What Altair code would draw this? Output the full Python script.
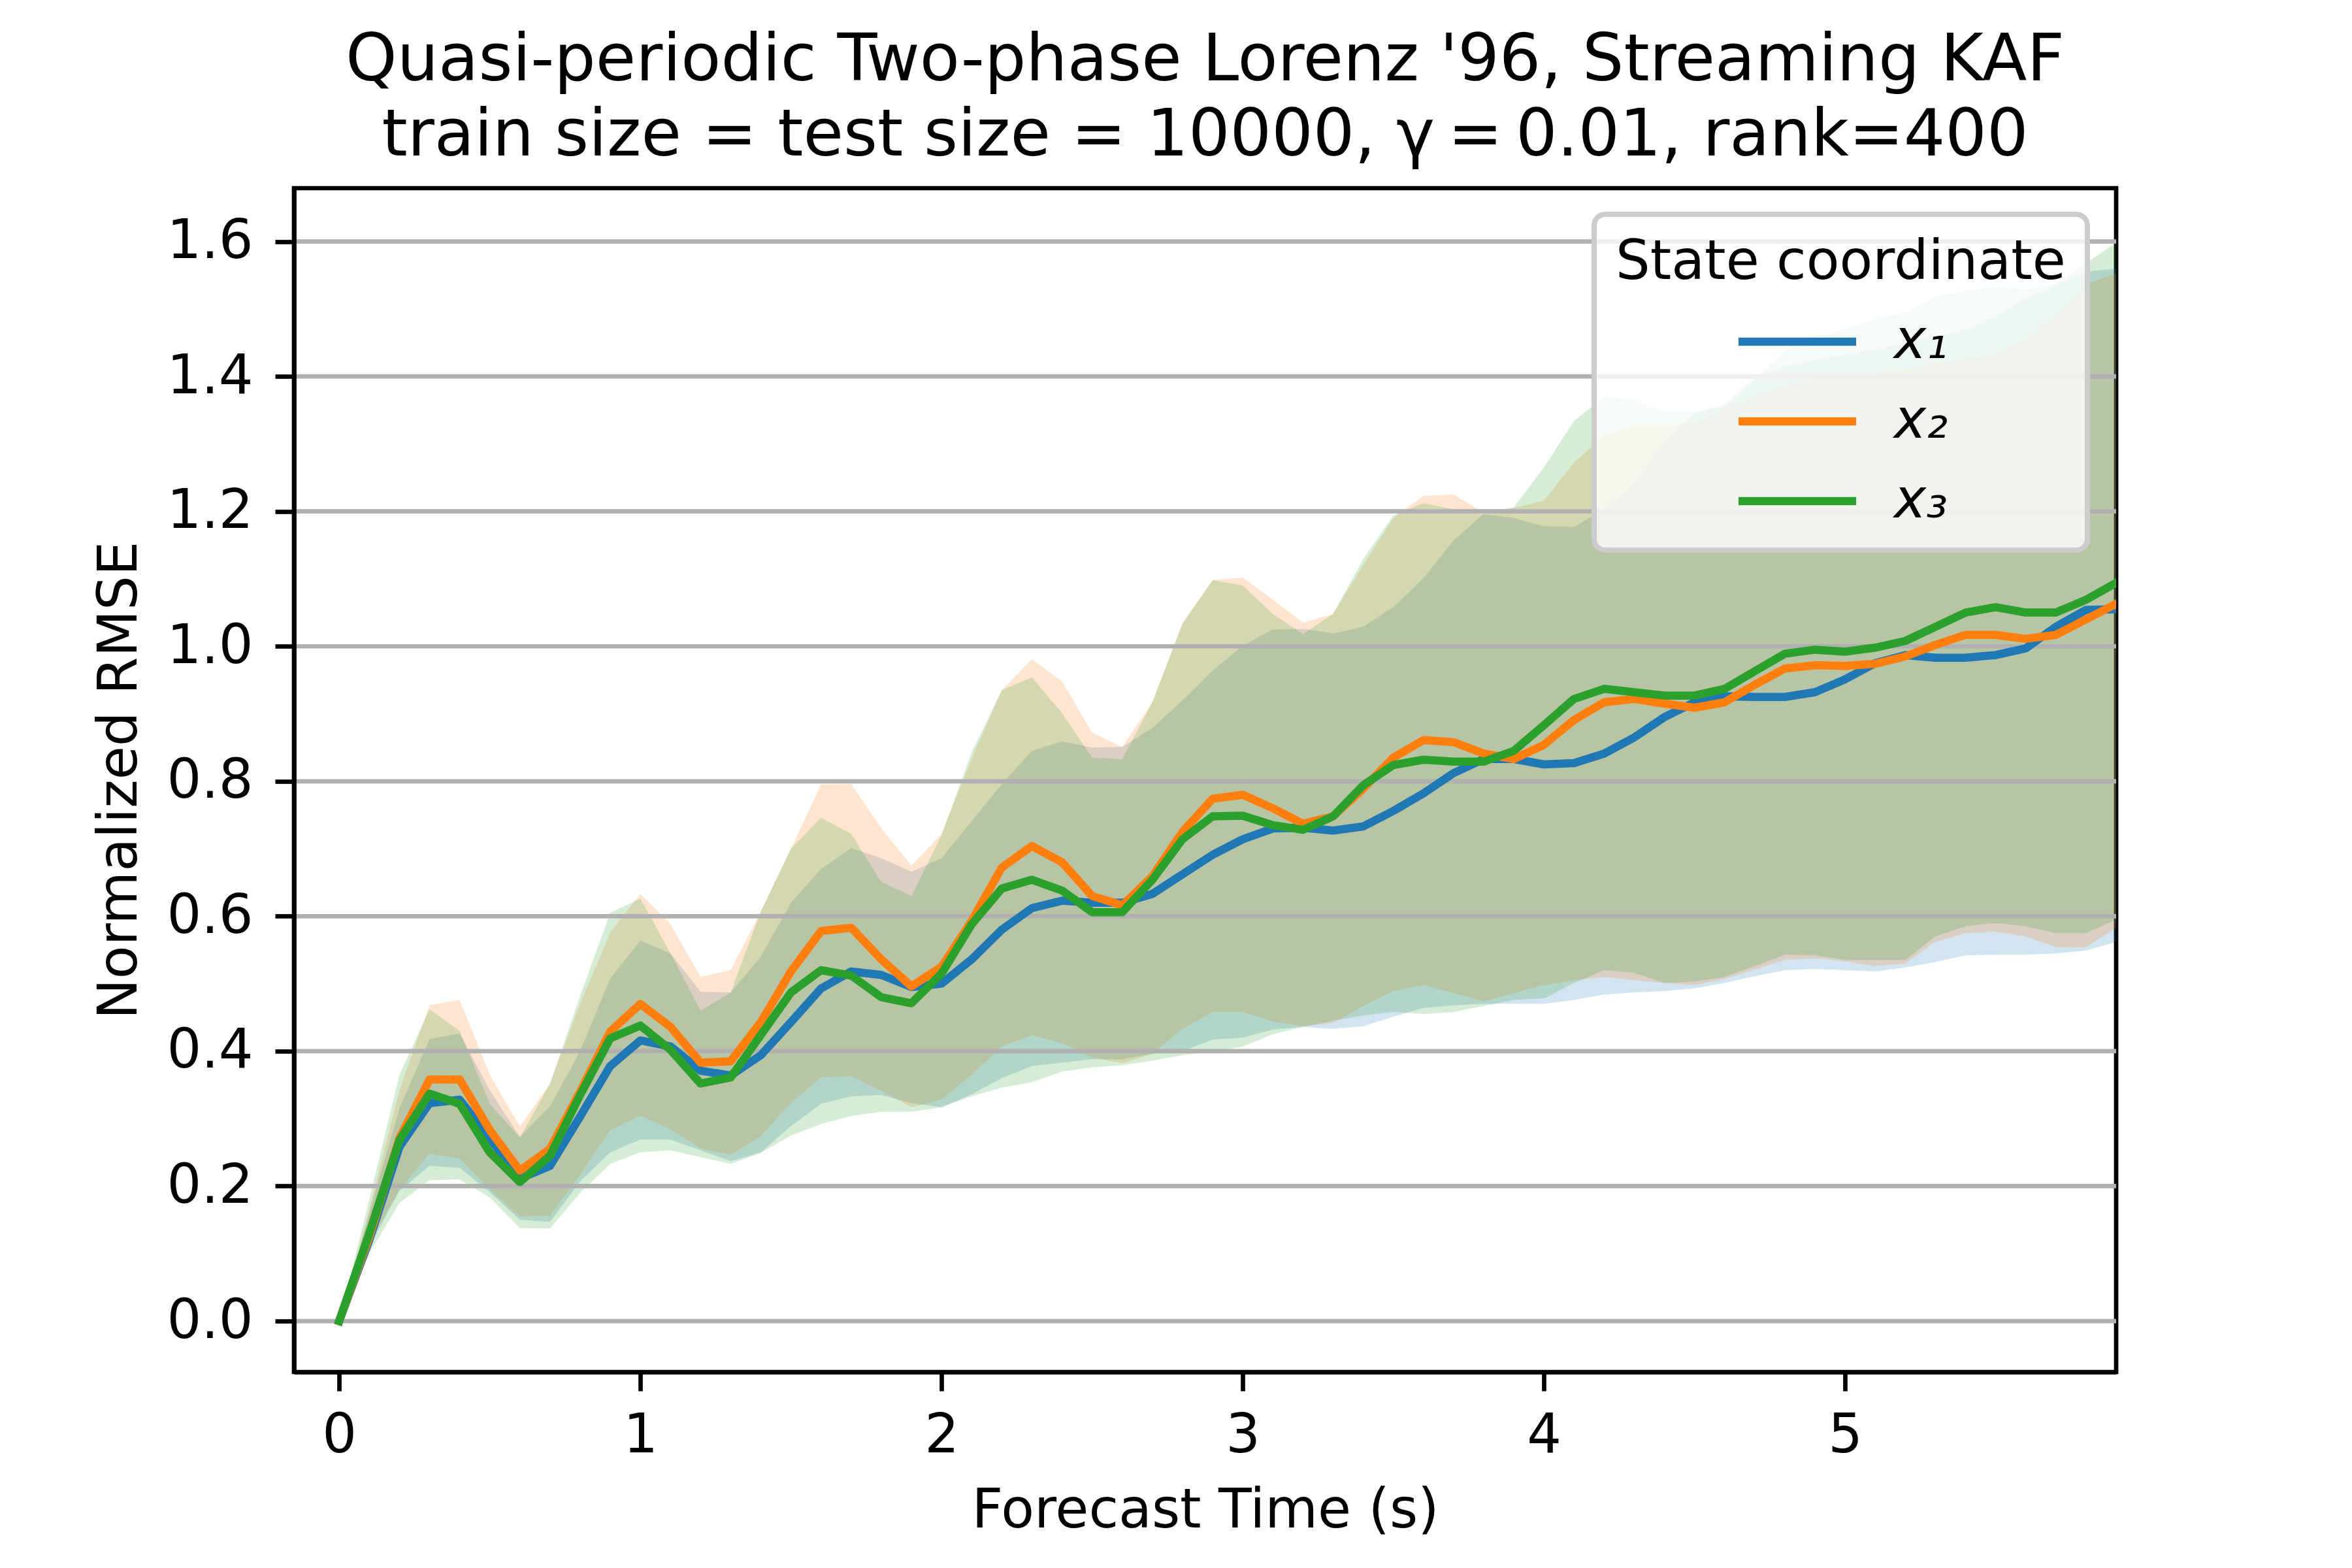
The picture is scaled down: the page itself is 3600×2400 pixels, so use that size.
import altair as alt
import pandas as pd

# ---------------- data ----------------
time_s = [0.0, 0.1, 0.2, 0.3, 0.4, 0.5, 0.6, 0.7, 0.8, 0.9,
          1.0, 1.1, 1.2, 1.3, 1.4, 1.5, 1.6, 1.7, 1.8, 1.9,
          2.0, 2.1, 2.2, 2.3, 2.4, 2.5, 2.6, 2.7, 2.8, 2.9,
          3.0, 3.1, 3.2, 3.3, 3.4, 3.5, 3.6, 3.7, 3.8, 3.9,
          4.0, 4.1, 4.2, 4.3, 4.4, 4.5, 4.6, 4.7, 4.8, 4.9,
          5.0, 5.1, 5.2, 5.3, 5.4, 5.5, 5.6, 5.7, 5.8, 5.9]

coord_names = ["x\u2081", "x\u2082", "x\u2083"]
coord_colors = ["#1f77b4", "#ff7f0e", "#2ca02c"]

mean_x1 = [0.0, 0.12, 0.258, 0.323, 0.328, 0.271, 0.211, 0.23, 0.303, 0.378,
           0.416, 0.407, 0.371, 0.364, 0.394, 0.443, 0.493, 0.518, 0.513, 0.495,
           0.5, 0.536, 0.58, 0.612, 0.623, 0.62, 0.62, 0.633, 0.662, 0.691,
           0.714, 0.73, 0.731, 0.727, 0.733, 0.756, 0.782, 0.812, 0.833, 0.833,
           0.825, 0.827, 0.841, 0.865, 0.895, 0.917, 0.926, 0.925, 0.925, 0.932,
           0.951, 0.975, 0.987, 0.983, 0.983, 0.987, 0.997, 1.029, 1.054, 1.055]
mean_x2 = [0.0, 0.125, 0.271, 0.358, 0.358, 0.283, 0.223, 0.255, 0.34, 0.429,
           0.47, 0.436, 0.383, 0.385, 0.443, 0.518, 0.578, 0.583, 0.536, 0.496,
           0.525, 0.593, 0.672, 0.704, 0.68, 0.63, 0.616, 0.659, 0.725, 0.774,
           0.78, 0.76, 0.737, 0.748, 0.789, 0.835, 0.861, 0.858, 0.841, 0.833,
           0.854, 0.891, 0.917, 0.922, 0.915, 0.909, 0.917, 0.943, 0.967, 0.972,
           0.971, 0.974, 0.985, 1.002, 1.017, 1.017, 1.011, 1.017, 1.04, 1.063]
mean_x3 = [0.0, 0.13, 0.268, 0.337, 0.322, 0.25, 0.206, 0.245, 0.335, 0.419,
           0.438, 0.402, 0.352, 0.361, 0.424, 0.487, 0.52, 0.512, 0.48, 0.471,
           0.515, 0.588, 0.641, 0.654, 0.638, 0.606, 0.606, 0.654, 0.714, 0.748,
           0.749, 0.735, 0.728, 0.748, 0.794, 0.824, 0.832, 0.829, 0.829, 0.845,
           0.883, 0.922, 0.937, 0.932, 0.927, 0.927, 0.937, 0.963, 0.989, 0.995,
           0.992, 0.998, 1.008, 1.029, 1.05, 1.058, 1.05, 1.05, 1.069, 1.094]

hi_x1 = [0.0, 0.16, 0.315, 0.418, 0.426, 0.342, 0.273, 0.318, 0.4, 0.508,
         0.564, 0.545, 0.488, 0.487, 0.54, 0.62, 0.67, 0.701, 0.686, 0.666,
         0.686, 0.741, 0.796, 0.845, 0.859, 0.85, 0.851, 0.879, 0.92, 0.964,
         1.001, 1.025, 1.026, 1.019, 1.029, 1.058, 1.101, 1.157, 1.196, 1.19,
         1.178, 1.177, 1.203, 1.24, 1.304, 1.345, 1.36, 1.4, 1.415, 1.425,
         1.432, 1.44, 1.45, 1.46, 1.468, 1.49, 1.515, 1.535, 1.555, 1.56]
hi_x2 = [0.0, 0.165, 0.342, 0.468, 0.476, 0.365, 0.288, 0.352, 0.47, 0.576,
         0.633, 0.588, 0.51, 0.52, 0.607, 0.7, 0.795, 0.796, 0.73, 0.675,
         0.722, 0.833, 0.935, 0.981, 0.948, 0.872, 0.851, 0.917, 1.035, 1.098,
         1.102, 1.069, 1.035, 1.048, 1.12, 1.19, 1.223, 1.225, 1.198, 1.205,
         1.216, 1.272, 1.313, 1.327, 1.326, 1.33, 1.35, 1.37, 1.385, 1.395,
         1.4, 1.405, 1.41, 1.42, 1.425, 1.433, 1.455, 1.49, 1.537, 1.553]
hi_x3 = [0.0, 0.18, 0.365, 0.462, 0.43, 0.322, 0.272, 0.352, 0.482, 0.605,
         0.626, 0.545, 0.46, 0.487, 0.607, 0.7, 0.746, 0.722, 0.651, 0.63,
         0.72, 0.843, 0.935, 0.954, 0.901, 0.835, 0.833, 0.917, 1.033, 1.098,
         1.09, 1.048, 1.018, 1.048, 1.129, 1.194, 1.212, 1.203, 1.196, 1.206,
         1.265, 1.334, 1.37, 1.365, 1.348, 1.347, 1.356, 1.395, 1.438, 1.458,
         1.47, 1.485, 1.495, 1.518, 1.527, 1.533, 1.529, 1.537, 1.568, 1.598]

lo_x1 = [0.0, 0.11, 0.193, 0.23, 0.227, 0.191, 0.15, 0.147, 0.207, 0.25,
         0.269, 0.269, 0.253, 0.237, 0.25, 0.289, 0.322, 0.333, 0.335, 0.323,
         0.317, 0.336, 0.36, 0.378, 0.383, 0.388, 0.388, 0.396, 0.4, 0.417,
         0.42, 0.432, 0.436, 0.433, 0.437, 0.451, 0.464, 0.468, 0.47, 0.47,
         0.47, 0.476, 0.484, 0.487, 0.489, 0.493, 0.501, 0.511, 0.52, 0.522,
         0.52, 0.518, 0.524, 0.532, 0.542, 0.543, 0.543, 0.545, 0.549, 0.562]
lo_x2 = [0.0, 0.115, 0.195, 0.248, 0.241, 0.195, 0.155, 0.156, 0.217, 0.283,
         0.304, 0.284, 0.256, 0.246, 0.274, 0.323, 0.361, 0.363, 0.341, 0.317,
         0.328, 0.365, 0.407, 0.424, 0.412, 0.391, 0.382, 0.396, 0.433, 0.458,
         0.458, 0.444, 0.437, 0.442, 0.467, 0.489, 0.498, 0.486, 0.474, 0.486,
         0.498, 0.505, 0.51, 0.505, 0.501, 0.498, 0.507, 0.521, 0.535, 0.538,
         0.533, 0.526, 0.53, 0.562, 0.575, 0.577, 0.57, 0.554, 0.554, 0.583]
lo_x3 = [0.0, 0.1, 0.175, 0.209, 0.21, 0.183, 0.138, 0.137, 0.19, 0.233,
         0.25, 0.253, 0.243, 0.233, 0.249, 0.275, 0.292, 0.304, 0.31, 0.31,
         0.317, 0.333, 0.346, 0.354, 0.37, 0.376, 0.379, 0.386, 0.394, 0.399,
         0.407, 0.425, 0.436, 0.445, 0.453, 0.458, 0.455, 0.458, 0.467, 0.476,
         0.478, 0.501, 0.52, 0.516, 0.501, 0.503, 0.51, 0.526, 0.543, 0.542,
         0.535, 0.535, 0.535, 0.57, 0.585, 0.59, 0.585, 0.575, 0.575, 0.595]

y_ticks = [0.0, 0.2, 0.4, 0.6, 0.8, 1.0, 1.2, 1.4, 1.6]
x_ticks = [0, 1, 2, 3, 4, 5]

title_lines = ["Quasi-periodic Two-phase Lorenz '96, Streaming KAF",
               "train size = test size = 10000, \u03b3\u2009=\u20090.01, rank=400"]

# ---------------- table ----------------
rows = []
for name, m, lo, hi in zip(coord_names,
                           [mean_x1, mean_x2, mean_x3],
                           [lo_x1, lo_x2, lo_x3],
                           [hi_x1, hi_x2, hi_x3]):
    for t, a, b, c in zip(time_s, m, lo, hi):
        rows.append({"t": t, "coord": name, "mean": a, "lo": b, "hi": c})
df = pd.DataFrame(rows)
grid_df = pd.DataFrame({"v": y_ticks})

FONT = "DejaVu Sans"
W, H = 2789, 1812
LW = 6.7

x_scale = alt.Scale(domain=[-0.15, 5.9], nice=False, zero=False)
y_scale = alt.Scale(domain=[-0.0755, 1.679], nice=False, zero=False)

x_axis = alt.Axis(values=x_ticks, format="d", title="Forecast Time (s)", grid=False,
                  domainColor="black", domainWidth=LW, tickColor="black", tickWidth=LW,
                  tickSize=29, labelFontSize=83, labelFont=FONT, labelColor="black",
                  labelBaseline="alphabetic", labelPadding=93, labelFlush=False,
                  labelOverlap=False,
                  titleFontSize=83, titleFont=FONT, titleFontWeight="normal",
                  titleColor="black", titleX=W / 2, titleY=237,
                  titleBaseline="alphabetic", titleAlign="center", zindex=1)
y_axis = alt.Axis(values=y_ticks, format=".1f", title="Normalized RMSE", grid=False,
                  domainColor="black", domainWidth=LW, tickColor="black", tickWidth=LW,
                  tickSize=29, labelFontSize=83, labelFont=FONT, labelColor="black",
                  labelPadding=34, labelFlush=False, labelOverlap=False,
                  titleFontSize=83, titleFont=FONT, titleFontWeight="normal",
                  titleColor="black", titleAngle=270, titleX=-242, titleY=H / 2,
                  titleBaseline="alphabetic", titleAlign="center", zindex=1)

X = alt.X("t:Q", scale=x_scale, axis=x_axis)

# band fill scale: same mapping, domain listed in reverse so that it is not merged
# with the (visible) line legend
bands = alt.Chart(df).mark_area(fillOpacity=0.2, strokeWidth=0, clip=True).encode(
    x=X,
    y=alt.Y("lo:Q", scale=y_scale, axis=y_axis),
    y2="hi:Q",
    fill=alt.Fill("coord:N",
                  scale=alt.Scale(domain=coord_names[::-1], range=coord_colors[::-1]),
                  legend=None),
)

grid = alt.Chart(grid_df).mark_rule(color="#b0b0b0", strokeWidth=LW).encode(
    y=alt.Y("v:Q", scale=y_scale, axis=y_axis)
)

legend = alt.Legend(title="State coordinate", orient="none", legendX=1990, legendY=40,
                    padding=33, titleFontSize=83, titleFont=FONT, titleFontWeight="normal",
                    titleColor="black", titlePadding=31, titleAnchor="start",
                    titleLimit=3000,
                    labelFontSize=83, labelFont=FONT, labelFontStyle="italic",
                    labelColor="black", labelOffset=100, labelLimit=1000,
                    symbolOffset=230, symbolType="M-2.169,0L2.169,0", symbolSize=6889,
                    symbolStrokeWidth=12.5, rowPadding=32,
                    fillColor="rgba(255,255,255,0.8)", strokeColor="#cccccc",
                    cornerRadius=17)

lines = alt.Chart(df).mark_line(strokeWidth=12.5, strokeJoin="round", strokeCap="square",
                                clip=True).encode(
    x=X,
    y=alt.Y("mean:Q", scale=y_scale, axis=y_axis),
    color=alt.Color("coord:N", scale=alt.Scale(domain=coord_names, range=coord_colors),
                    legend=legend),
)

chart = alt.layer(bands, grid, lines).properties(
    width=W,
    height=H,
    autosize=alt.AutoSizeParams(type="none"),
    padding={"left": 442, "top": 280, "right": 353, "bottom": 292},
    background="white",
    title=alt.TitleParams(text=title_lines, fontSize=100, font=FONT, fontWeight="normal",
                          color="black", anchor="middle", frame="group", offset=29,
                          lineHeight=115),
).configure_view(stroke="black", strokeWidth=LW).configure_legend(strokeWidth=8)

chart.save("out.html", embed_options={"renderer": "svg", "actions": False})
